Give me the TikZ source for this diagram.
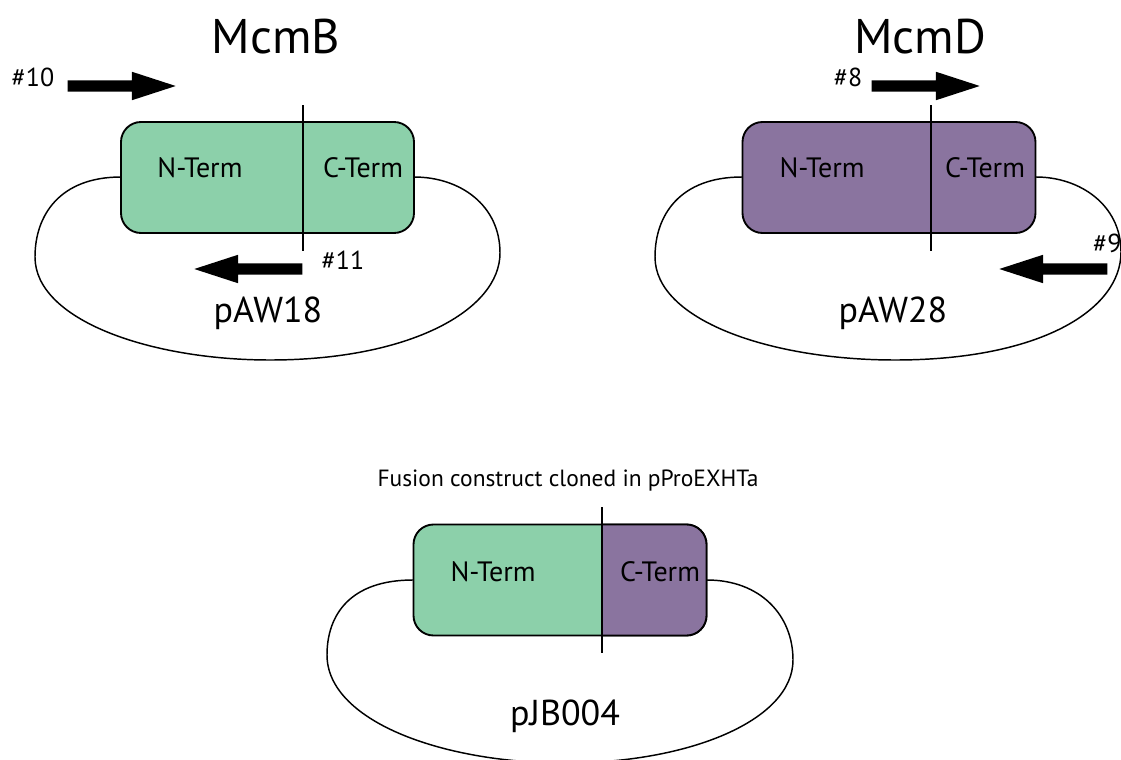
\documentclass[tikz,border=0pt]{standalone}
\usepackage{fontspec}
\setmainfont{PT Sans}
\usepackage{tikz}
\usetikzlibrary{shapes, arrows, positioning, calc}
\definecolor{mcmgreen}{RGB}{140, 208, 170}
\definecolor{mcmpurple}{RGB}{138, 116, 159}

\tikzset{
	genebox/.style={draw, line width=1.4pt, rounded corners=15pt, inner sep=0pt, minimum width=219.75pt, minimum height=83.25pt},
	primer/.style={single arrow, fill=black, inner sep=0pt, single arrow head extend=6.375pt, single arrow tip angle=36, minimum height=81pt},
	term/.style={font=\fontsize{21}{24}\selectfont},
	primerlbl/.style={font=\fontsize{19.5}{22}\selectfont},
	plasmid/.style={font=\fontsize{27}{31}\selectfont},
	protein/.style={font=\fontsize{36.5}{40}\selectfont}
}
\newcommand{\shaft}{\rule{0pt}{7.5pt}}

\begin{document}
\begin{tikzpicture}[x=0.75pt, y=-0.75pt, line width=1.1pt]
				\useasboundingbox (0,0) rectangle (1121,760);
				%% McmB -> pAW18
				\node[protein] (mcmB) at (276,37) {McmB};
				\draw (121,177) .. controls (60,177) and (35,215) .. (35,257) .. controls (35,320) and (150,360) .. (270,360) .. controls (410,360) and (500,310) .. (500,253) .. controls (500,205) and (460,177) .. (414,177);
				\node[genebox, fill=mcmgreen] (boxB) at (267.5,177.5) {};
				\draw (303,105) -- (303,251);
				\node[term] (nB) at (200,168) {N-Term};
				\node[term] (cB) at (363,168) {C-Term};
				\node[primer, anchor=tail] (p10) at (67,86) {\shaft};
				\node[primerlbl] (l10) at (33,77) {\#10};
				\node[primer, shape border rotate=180, anchor=tail] (p11) at (303,269) {\shaft};
				\node[primerlbl] (l11) at (343,260) {\#11};
				\node[plasmid] (pAW18) at (268,313) {pAW18};
				
				%% McmD -> pAW28
				\node[protein] (mcmD) at (920,37) {McmD};
				\draw (742,177) .. controls (680,177) and (655,215) .. (655,257) .. controls (655,320) and (770,360) .. (895,360) .. controls (1040,360) and (1121,310) .. (1121,252) .. controls (1121,205) and (1080,177) .. (1036,177);
				\node[genebox, fill=mcmpurple] (boxD) at (889,177.5) {};
				\draw (931,105) -- (931,251);
				\node[term] (nD) at (822,168) {N-Term};
				\node[term] (cD) at (985,168) {C-Term};
				\node[primer, anchor=tail] (p8) at (871,86) {\shaft};
				\node[primerlbl] (l8) at (848,77) {\#8};
				\node[primer, shape border rotate=180, anchor=tail] (p9) at (1108,269) {\shaft};
				\node[primerlbl, anchor=west] (l9) at (1088,243) {\#9};
				\node[plasmid] (pAW28) at (893,313) {pAW28};
				
				%% fusion in pProEXHTa
				\node[font=\fontsize{17.6}{20}\selectfont] (fusion) at (568,481) {Fusion construct cloned in pProEXHTa};
				\draw (413,580) .. controls (350,580) and (327,615) .. (327,655) .. controls (327,720) and (440,763) .. (565,763) .. controls (690,763) and (793,720) .. (793,660) .. controls (793,615) and (760,580) .. (707,580);
				\node[genebox, fill=mcmgreen] (boxF) at (560,580) {};
				\begin{scope}
					\clip (602,500) rectangle (720,660);
					\node[genebox, fill=mcmpurple] at (560,580) {};
				\end{scope}
				\draw (602,507) -- (602,653);
				\node[term] (nF) at (493,572) {N-Term};
				\node[term] (cF) at (660,572) {C-Term};
				\node[plasmid] (pJB004) at (565,716) {pJB004};
\end{tikzpicture}
\end{document}
